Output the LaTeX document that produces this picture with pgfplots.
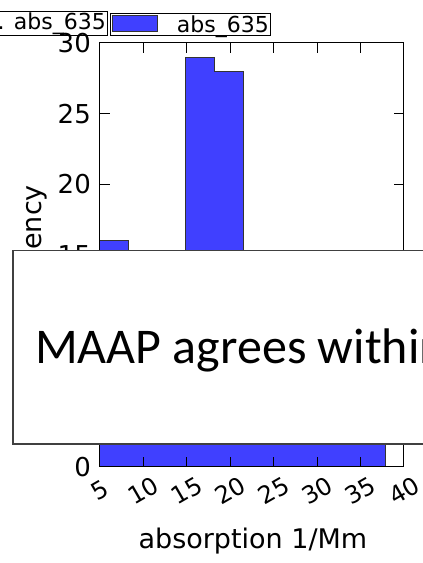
\documentclass[border=0pt]{standalone}
\usepackage{fontspec}
\setmainfont{DejaVu Sans}
\newfontfamily\calibri{Carlito}
\usepackage{pgfplots}
\pgfplotsset{compat=1.18}
\definecolor{barblue}{RGB}{64,64,255}
\begin{document}
\begin{tikzpicture}
\useasboundingbox (0,0) rectangle (423pt,563pt);
\begin{scope}
\clip (0,0) rectangle (423pt,563pt);
\begin{axis}[
  at={(100pt,96.3pt)}, anchor=south west,
  scale only axis, width=304pt, height=423.7pt,
  xmin=5, xmax=40, ymin=0, ymax=30,
  xtick={5,10,...,40}, ytick={0,5,...,30},
  tick align=inside, major tick length=10pt,
  axis line style={line width=1pt, black},
  tick style={line width=1pt, black},
  axis on top,
  /pgf/number format/assume math mode=true,
  yticklabel style={font=\fontsize{26}{26}\selectfont, inner sep=0pt, xshift=-9pt},
  xticklabel style={font=\fontsize{24}{24}\selectfont, rotate=30, anchor=center, inner sep=0pt},
  xticklabel shift=24pt,
  xlabel={absorption 1/Mm}, ylabel={Frequency},
  label style={font=\fontsize{27}{27}\selectfont},
  xlabel style={at={(axis description cs:0.503,-0.192)}, anchor=base},
  ylabel style={at={(axis description cs:-0.217,0.5)}, anchor=center},
  legend style={at={(rel axis cs:0.033,1.0165)}, anchor=south west, draw=black, line width=1pt,
    inner sep=1.5pt, font=\fontsize{22}{22}\selectfont, nodes={inner sep=0pt}},
  legend image code/.code={\draw[fill=barblue, draw=black!80, line width=0.8pt] (0pt,-6pt) rectangle (45pt,10pt); \path (64pt,0pt);},
]
\addplot[fill=barblue, draw=black!80, line width=1pt, const plot] coordinates {
  (5.0,0) (5.0,16) (8.3,12) (11.6,14) (14.9,29) (18.2,28) (21.5,13) (24.8,9) (28.1,6) (31.3,4) (34.6,3) (37.9,3) (37.9,0)
} -- cycle;
\addlegendentry{abs\_635}
\end{axis}
\draw[line width=1pt] (-60pt,527pt) rectangle (107.3pt,551pt);
\node[anchor=base east, inner sep=0pt, font=\fontsize{22}{22}\selectfont] at (106pt,533pt) {ref. abs\_635};
\draw[draw=black!75, line width=1.3pt, fill=white] (13pt,119pt) rectangle (460pt,312.3pt);
\node[anchor=base west, inner sep=0pt, font=\calibri\fontsize{50}{50}\selectfont] at (35pt,199.7pt) {MAAP agrees within};
\end{scope}
\end{tikzpicture}
\end{document}
